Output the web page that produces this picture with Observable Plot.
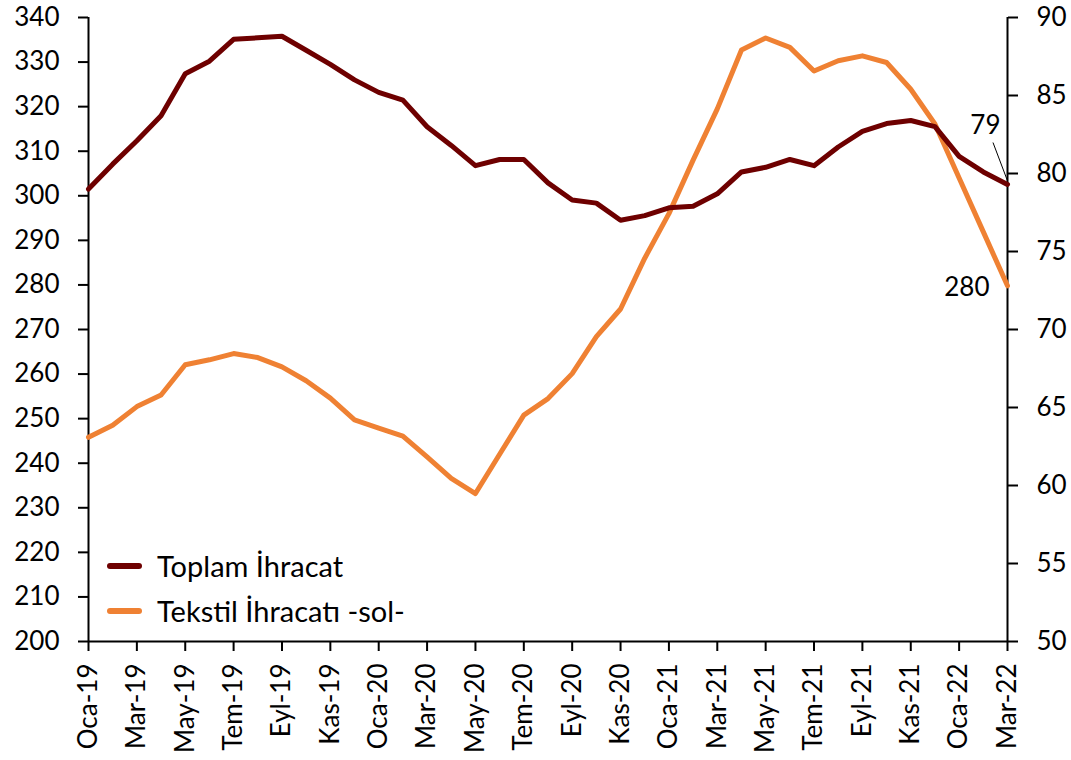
<!DOCTYPE html>
<html>
<head>
<meta charset="utf-8">
<script src="https://cdn.jsdelivr.net/npm/d3@7"></script>
<script src="https://cdn.jsdelivr.net/npm/@observablehq/plot@0.6"></script>
<style>
  html, body { margin: 0; padding: 0; background: #fff; }
  #wrap { position: relative; width: 1071px; height: 760px; font-family: Lato, "Open Sans", sans-serif; }
  #legend { position: absolute; left: 107px; top: 543px; font-size: 29px; color: #000; }
  .row { display: flex; align-items: center; height: 45px; }
  .sw { width: 35px; height: 6px; border-radius: 3px; margin-right: 15px; }
</style>
</head>
<body>
<div id="wrap"></div>
<script>
const months = ["Oca-19","Şub-19","Mar-19","Nis-19","May-19","Haz-19","Tem-19","Ağu-19","Eyl-19","Eki-19","Kas-19","Ara-19",
  "Oca-20","Şub-20","Mar-20","Nis-20","May-20","Haz-20","Tem-20","Ağu-20","Eyl-20","Eki-20","Kas-20","Ara-20",
  "Oca-21","Şub-21","Mar-21","Nis-21","May-21","Haz-21","Tem-21","Ağu-21","Eyl-21","Eki-21","Kas-21","Ara-21",
  "Oca-22","Şub-22","Mar-22"];

// Tekstil İhracatı (left axis)
const tekstil = [245.8, 248.5, 252.7, 255.3, 262.1, 263.2, 264.6, 263.7, 261.6, 258.5, 254.6, 249.7,
  247.9, 246.1, 241.4, 236.6, 233.2, 242.0, 250.8, 254.5, 260.1, 268.4, 274.6, 286.0,
  296.0, 308.0, 319.5, 332.7, 335.4, 333.3, 328.0, 330.3, 331.4, 329.9, 323.9, 316.1,
  304.0, 291.9, 279.8];

// Toplam İhracat (right axis)
const toplam = [79.0, 80.6, 82.1, 83.7, 86.4, 87.2, 88.6, 88.7, 88.8, 87.9, 87.0, 86.0,
  85.2, 84.7, 83.0, 81.8, 80.5, 80.9, 80.9, 79.4, 78.3, 78.1, 77.0, 77.3,
  77.8, 77.9, 78.7, 80.1, 80.4, 80.9, 80.5, 81.7, 82.7, 83.2, 83.4, 83.0,
  81.1, 80.1, 79.3];

const leftTicks = d3.range(200, 341, 10);
const rightTicks = d3.range(50, 91, 5);
const seriesNames = ["Toplam İhracat", "Tekstil İhracatı -sol-"];
const colors = ["#6e0000", "#ef8133"];

// map right-axis values onto the left scale (50..90 -> 200..340)
const toLeft = v => 200 + (v - 50) * 3.5;
const fromLeft = y => (y - 200) / 3.5 + 50;

const data = months.map((m, i) => ({i, month: m, tekstil: tekstil[i], toplam: toplam[i]}));
const last = data[data.length - 1];
const xTicks = d3.range(0, months.length, 2);

const chart = Plot.plot({
  width: 1071,
  height: 760,
  marginLeft: 88,
  marginRight: 64,
  marginTop: 17,
  marginBottom: 119,
  style: {fontFamily: "Lato, 'Open Sans', sans-serif", fontSize: "26px", color: "#000", background: "#fff"},
  x: {domain: [0, months.length - 1]},
  y: {domain: [200, 340]},
  marks: [
    Plot.axisY(leftTicks, {anchor: "left", tickSize: 10, tickPadding: 19, strokeWidth: 2, label: null, fontSize: 26}),
    Plot.axisY(rightTicks.map(toLeft), {anchor: "right", tickSize: 10, tickPadding: 19, strokeWidth: 2, label: null, fontSize: 26,
      tickFormat: d => String(Math.round(fromLeft(d)))}),
    Plot.axisX(xTicks, {anchor: "bottom", tickSize: 10, tickPadding: 12, strokeWidth: 2, tickRotate: -90, label: null, fontSize: 26,
      tickFormat: i => months[i]}),
    Plot.ruleX([0, months.length - 1], {stroke: "#000", strokeWidth: 2}),
    Plot.ruleY([200], {stroke: "#000", strokeWidth: 2}),
    Plot.line(data, {x: "i", y: "tekstil", stroke: colors[1], strokeWidth: 5, strokeLinejoin: "round"}),
    Plot.line(data, {x: "i", y: d => toLeft(d.toplam), stroke: colors[0], strokeWidth: 5, strokeLinejoin: "round"}),
    Plot.link([last], {x1: d => d.i, y1: d => toLeft(d.toplam) + 0.8, x2: d => d.i - 0.6, y2: d => toLeft(d.toplam) + 9.4,
      stroke: "#000", strokeWidth: 1}),
    Plot.text([last], {x: "i", y: d => toLeft(d.toplam), text: d => d3.format(".0f")(d.toplam),
      textAnchor: "end", lineAnchor: "bottom", dx: -7, dy: -50, fontSize: 26, fill: "#000"}),
    Plot.text([last], {x: "i", y: "tekstil", text: d => d3.format(".0f")(d.tekstil),
      textAnchor: "end", lineAnchor: "bottom", dx: -18, dy: 10, fontSize: 26, fill: "#000"})
  ]
});

const wrap = document.getElementById("wrap");
wrap.appendChild(chart);
const legend = document.createElement("div");
legend.id = "legend";
seriesNames.forEach((name, k) => {
  const row = document.createElement("div");
  row.className = "row";
  const sw = document.createElement("span");
  sw.className = "sw";
  sw.style.background = colors[k];
  const t = document.createElement("span");
  t.textContent = name;
  row.appendChild(sw);
  row.appendChild(t);
  legend.appendChild(row);
});
wrap.appendChild(legend);
</script>
</body>
</html>
